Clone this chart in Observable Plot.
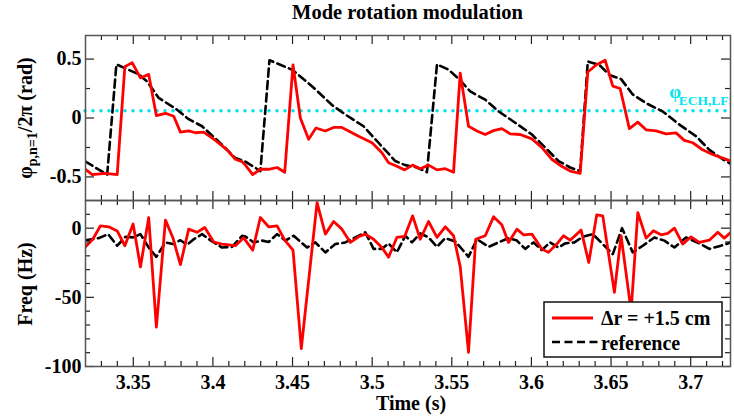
<!DOCTYPE html>
<html>
<head>
<meta charset="utf-8">
<script src="https://cdn.jsdelivr.net/npm/d3@7"></script>
<script src="https://cdn.jsdelivr.net/npm/@observablehq/plot@0.6"></script>
<style>
  body { margin: 0; background: white; }
  #wrap { position: relative; width: 734px; height: 417px; background: white; overflow: hidden; }
  #title { position: absolute; left: 85px; width: 645px; top: 1px; text-align: center;
           font-family: "Liberation Serif", serif; font-weight: bold; font-size: 20.5px; color: #000; }
  #p1, #p2 { position: absolute; left: 0; }
  #p1 { top: 0; }
  #p2 { top: 190px; }
</style>
</head>
<body>
<div id="wrap">
  <div id="p1"></div>
  <div id="p2"></div>
  <div id="title">Mode rotation modulation</div>
</div>
<script>
// ---------- data ----------
const phaseT_dr = [3.3200,3.3242,3.3325,3.3399,3.3447,3.3493,3.3545,3.3597,3.3645,3.3702,3.3754,3.3796,3.3848,3.3890,3.3942,3.4016,3.4089,3.4141,3.4183,3.4204,3.4250,3.4298,3.4350,3.4403,3.4451,3.4503,3.4549,3.4601,3.4647,3.4706,3.4758,3.4810,3.4852,3.4915,3.4999,3.5061,3.5103,3.5155,3.5204,3.5254,3.5302,3.5354,3.5407,3.5459,3.5511,3.5553,3.5605,3.5658,3.5710,3.5762,3.5814,3.5867,3.5929,3.6003,3.6065,3.6128,3.6190,3.6243,3.6306,3.6354,3.6406,3.6463,3.6511,3.6557,3.6615,3.6668,3.6720,3.6783,3.6845,3.6908,3.6960,3.7013,3.7075,3.7138,3.7201,3.7253];
const phase_dr  = [-0.435,-0.48,-0.47,-0.48,0.435,0.47,0.34,0.37,0.02,0.04,0.015,-0.12,-0.11,-0.125,-0.12,-0.19,-0.27,-0.35,-0.37,-0.40,-0.48,-0.435,-0.435,-0.42,-0.46,0.45,0.0,-0.18,-0.085,-0.11,-0.08,-0.08,-0.11,-0.155,-0.21,-0.295,-0.38,-0.41,-0.44,-0.40,-0.43,-0.40,-0.44,-0.43,-0.46,0.38,-0.07,-0.11,-0.14,-0.107,-0.09,-0.135,-0.14,-0.177,-0.25,-0.35,-0.41,-0.45,-0.47,0.39,0.45,0.49,0.27,0.25,-0.09,-0.035,-0.10,-0.11,-0.135,-0.126,-0.19,-0.21,-0.27,-0.31,-0.34,-0.365];

const phaseT_ref = [3.3200,3.3336,3.3394,3.3535,3.3587,3.3660,3.3765,3.3848,3.3932,3.4036,3.4141,3.4204,3.4298,3.4355,3.4497,3.4622,3.4748,3.4831,3.4946,3.5040,3.5145,3.5208,3.5281,3.5344,3.5407,3.5480,3.5553,3.5616,3.5710,3.5794,3.5898,3.6003,3.6086,3.6170,3.6243,3.6306,3.6354,3.6427,3.6490,3.6563,3.6636,3.6720,3.6824,3.6929,3.7034,3.7117,3.7201,3.7253];
const phase_ref  = [-0.37,-0.48,0.455,0.37,0.31,0.17,0.08,-0.01,-0.07,-0.20,-0.34,-0.37,-0.45,0.49,0.41,0.27,0.11,0.03,-0.07,-0.21,-0.365,-0.40,-0.42,-0.46,0.455,0.41,0.32,0.225,0.155,0.056,-0.04,-0.14,-0.25,-0.365,-0.42,-0.45,0.48,0.45,0.365,0.33,0.20,0.126,0.056,-0.056,-0.155,-0.27,-0.35,-0.39];

const freqT_dr = [3.3200,3.3246,3.3294,3.3346,3.3399,3.3447,3.3499,3.3545,3.3597,3.3645,3.3702,3.3748,3.3796,3.3848,3.3900,3.3949,3.4005,3.4057,3.4141,3.4193,3.4250,3.4298,3.4350,3.4403,3.4451,3.4503,3.4555,3.4654,3.4706,3.4758,3.4810,3.4863,3.4915,3.4957,3.5009,3.5061,3.5103,3.5155,3.5204,3.5254,3.5302,3.5354,3.5407,3.5459,3.5511,3.5553,3.5605,3.5650,3.5710,3.5762,3.5814,3.5856,3.5909,3.5950,3.6003,3.6065,3.6107,3.6159,3.6201,3.6243,3.6312,3.6360,3.6410,3.6448,3.6521,3.6563,3.6626,3.6668,3.6720,3.6766,3.6814,3.6856,3.6898,3.6950,3.7002,3.7054,3.7117,3.7170,3.7211,3.7253];
const freq_dr  = [-13.5,-8,1.7,1,-2,-12.7,3,-28,7.7,-71.6,5.8,-6.7,-26.4,-0.7,-3,0.5,-10,-11.5,-12.7,-7,-15.9,7.7,1,1.7,-8.7,-15.9,-87,18.5,-4.3,4.8,-0.7,-10.3,-6.25,-4.3,-8,-14,-21,-6.7,-6,8.9,-8,4.8,-6.7,1,-5.5,-28,-89.7,-8,-5.5,8.2,2.4,-10.3,-0.7,-4.8,-4.3,-15,-17.5,-11.5,-5.5,-8.7,-1.4,-24.8,9.6,8.9,-46.4,-5.5,-60,11.3,-7.2,-1.9,-4.8,-3.8,0,-11.5,-6.25,-10.3,-8.7,-3,-7.2,-3];

const freqT_ref = [3.3200,3.3284,3.3342,3.3399,3.3451,3.3499,3.3545,3.3597,3.3645,3.3702,3.3750,3.3796,3.3838,3.3880,3.3932,3.3995,3.4057,3.4120,3.4183,3.4204,3.4256,3.4309,3.4350,3.4403,3.4455,3.4507,3.4591,3.4643,3.4706,3.4769,3.4831,3.4894,3.4957,3.5009,3.5061,3.5103,3.5155,3.5208,3.5250,3.5302,3.5354,3.5407,3.5459,3.5522,3.5605,3.5658,3.5731,3.5794,3.5856,3.5909,3.5961,3.6013,3.6065,3.6117,3.6170,3.6212,3.6270,3.6322,3.6385,3.6511,3.6569,3.6636,3.6699,3.6772,3.6835,3.6898,3.6971,3.7054,3.7117,3.7190,3.7253];
const freq_ref  = [-8.7,-7.2,-4.3,-12.7,-6.25,-6.7,-4.3,-14,-20.7,-10.3,-11.5,-8.7,-12,-8,-4.3,-9.6,-14,-13.5,-5.5,-6,-10.3,-9,-10,-4.3,-9,-5.5,-14,-10.3,-17.5,-11.5,-10.3,-6.7,-3,-15,-15,-11,-17.5,-5.5,-10.3,-3.8,-6.7,-13.5,-7.2,-9.6,-20.7,-8,-13.5,-10.3,-7.2,-9,-15,-10.3,-15.9,-10.3,-14,-11,-10.3,-6.25,-4.3,-18.8,0,-17.5,-12.7,-6.7,-9,-14,-6.7,-11,-15,-12.7,-10.3];

const phiECH = 0.062;

const xMajorTicks = [3.35,3.4,3.45,3.5,3.55,3.6,3.65,3.7];
const xTickLabels = ["3.35","3.4","3.45","3.5","3.55","3.6","3.65","3.7"];
const xMinorTicks = [3.33,3.34,3.36,3.37,3.38,3.39,3.41,3.42,3.43,3.44,3.46,3.47,3.48,3.49,3.51,3.52,3.53,3.54,3.56,3.57,3.58,3.59,3.61,3.62,3.63,3.64,3.66,3.67,3.68,3.69,3.71,3.72];
const yTopTicks = [-0.5,0,0.5];
const yTopLabels = ["-0.5","0","0.5"];
const yTopMinor = [-0.25,0.25];
const yBotTicks = [-100,-50,0];
const yBotLabels = ["-100","-50","0"];
const yBotMinor = [10,-10,-20,-30,-40,-60,-70,-80,-90];

const legendLabels = ["\u0394r = +1.5 cm", "reference"];

// ---------- helpers ----------
const zip = (ts, vs) => ts.map((t, i) => ({t, v: vs[i]}));
const RED = "#ff0000", CYAN = "#00e5ee", FRAME = "#555";
const W = 734, ML = 85, MR = 4, FW = W - ML - MR;
const style = {fontFamily: "Liberation Serif, serif", fontSize: "20px", fontWeight: "bold", background: "transparent", color: "#000"};

function tickMarks(H, yMaj, yMin) {
  const s = {stroke: "#222", strokeWidth: 1.2};
  return [
    Plot.tickX(xMajorTicks, {x: d => d, insetBottom: H - 9, ...s}),
    Plot.tickX(xMajorTicks, {x: d => d, insetTop: H - 9, ...s}),
    Plot.tickX(xMinorTicks, {x: d => d, insetBottom: H - 5, ...s}),
    Plot.tickX(xMinorTicks, {x: d => d, insetTop: H - 5, ...s}),
    Plot.tickY(yMaj, {y: d => d, insetRight: FW - 9, ...s}),
    Plot.tickY(yMaj, {y: d => d, insetLeft: FW - 9, ...s}),
    Plot.tickY(yMin, {y: d => d, insetRight: FW - 5, ...s}),
    Plot.tickY(yMin, {y: d => d, insetLeft: FW - 5, ...s})
  ];
}

// ---------- top panel ----------
const H1 = 165;
const p1 = Plot.plot({
  width: W, height: 205, marginTop: 35, marginBottom: 5, marginLeft: ML, marginRight: MR,
  style,
  x: {domain: [3.32, 3.725], axis: null},
  y: {domain: [-0.7, 0.7]},
  marks: [
    Plot.ruleY([phiECH], {stroke: CYAN, strokeWidth: 3.6, strokeDasharray: "0,8", strokeLinecap: "round"}),
    Plot.text(["\u03c6"], {x: 3.6903, y: 0.22, fill: CYAN, fontSize: 19, clip: true, textAnchor: "middle"}),
    Plot.text(["ECH,LFS"], {x: 3.6925, y: 0.143, fill: CYAN, fontSize: 13.5, clip: true, textAnchor: "start"}),
    Plot.line(zip(phaseT_ref, phase_ref), {x: "t", y: "v", stroke: "black", strokeWidth: 2.6, strokeDasharray: "8,4.5", clip: true}),
    Plot.line(zip(phaseT_dr, phase_dr), {x: "t", y: "v", stroke: RED, strokeWidth: 2.8, clip: true}),
    ...tickMarks(H1, yTopTicks, yTopMinor),
    Plot.axisY({ticks: yTopTicks, tickSize: 0, tickPadding: 4, tickFormat: d => yTopLabels[yTopTicks.indexOf(d)], label: null, fontSize: 20}),
    Plot.frame({stroke: FRAME, strokeWidth: 1.5})
  ]
});
document.getElementById("p1").appendChild(p1);
{
  const t = d3.select(p1).append("text")
    .attr("transform", "translate(32,118) rotate(-90)")
    .attr("text-anchor", "middle")
    .attr("font-size", 20).attr("font-weight", "bold")
    .attr("font-family", "Liberation Serif, serif").attr("fill", "#000");
  t.append("tspan").text("\u03c6");
  t.append("tspan").attr("font-size", 14).attr("dy", 5).text("p,n=1");
  t.append("tspan").attr("dy", -5).text("/2\u03c0 (rad)");
}

// ---------- bottom panel ----------
const H2 = 166;
const p2 = Plot.plot({
  width: W, height: 227, marginTop: 10, marginBottom: 51, marginLeft: ML, marginRight: MR,
  style,
  x: {domain: [3.32, 3.725]},
  y: {domain: [-100, 20]},
  marks: [
    Plot.line(zip(freqT_ref, freq_ref), {x: "t", y: "v", stroke: "black", strokeWidth: 2.6, strokeDasharray: "8,4.5", clip: true}),
    Plot.line(zip(freqT_dr, freq_dr), {x: "t", y: "v", stroke: RED, strokeWidth: 2.8, clip: true}),
    ...tickMarks(H2, yBotTicks, yBotMinor),
    Plot.axisY({ticks: yBotTicks, tickSize: 0, tickPadding: 4, tickFormat: d => yBotLabels[yBotTicks.indexOf(d)], label: null, fontSize: 20}),
    Plot.axisX({ticks: xMajorTicks, tickSize: 0, tickPadding: 8, tickFormat: d => xTickLabels[xMajorTicks.indexOf(d)], label: null, fontSize: 20}),
    Plot.frame({stroke: FRAME, strokeWidth: 1.5})
  ]
});
document.getElementById("p2").appendChild(p2);
{
  const s = d3.select(p2);
  const font = g => g.attr("font-family", "Liberation Serif, serif").attr("font-weight", "bold").attr("font-size", 20).attr("fill", "#000");
  s.append("text").attr("transform", "translate(32,94) rotate(-90)").attr("text-anchor", "middle").call(font).text("Freq (Hz)");
  s.append("text").attr("x", 411).attr("y", 220).attr("text-anchor", "middle").call(font).text("Time (s)");
  // legend
  const lg = s.append("g").attr("text-anchor", "start");
  lg.append("rect").attr("x", 544).attr("y", 112).attr("width", 178).attr("height", 55)
    .attr("fill", "white").attr("stroke", "#111").attr("stroke-width", 1.5);
  lg.append("line").attr("x1", 552).attr("x2", 593).attr("y1", 128).attr("y2", 128)
    .attr("stroke", RED).attr("stroke-width", 2.8);
  lg.append("line").attr("x1", 552).attr("x2", 598).attr("y1", 152).attr("y2", 152)
    .attr("stroke", "black").attr("stroke-width", 2.6).attr("stroke-dasharray", "8,4.5");
  lg.append("text").attr("x", 601).attr("y", 135).attr("text-anchor", "start").call(font).text(legendLabels[0]);
  lg.append("text").attr("x", 601).attr("y", 160).attr("text-anchor", "start").call(font).text(legendLabels[1]);
}
</script>
</body>
</html>
